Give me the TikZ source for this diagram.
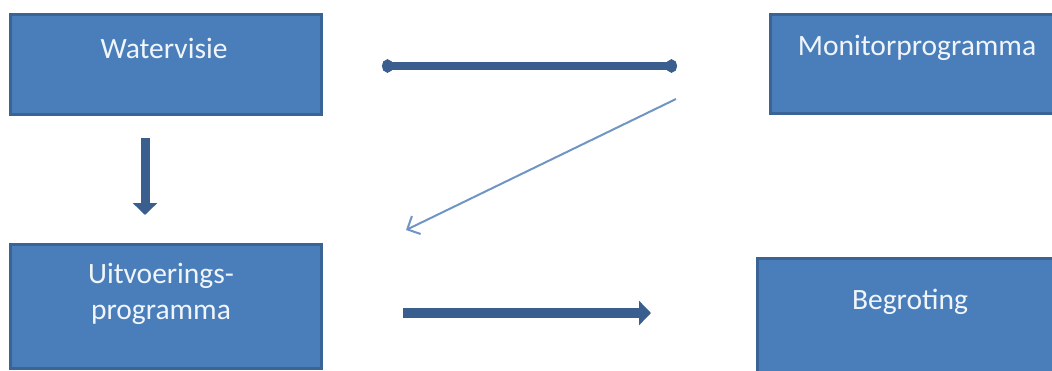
\documentclass[tikz,border=0pt]{standalone}
\usepackage{fontspec}
\setmainfont{Carlito}
\usetikzlibrary{arrows.meta}
\definecolor{boxfill}{HTML}{4A7EBB}
\definecolor{boxline}{HTML}{3A6496}
\definecolor{arrdark}{HTML}{3A5F8E}
\definecolor{arrlight}{HTML}{7095C4}
\begin{document}
\begin{tikzpicture}[x=1pt,y=-1pt,
  blk/.style={draw=boxline,fill=boxfill,line width=3pt},
  lbl/.style={text=white!92!boxfill,font=\fontsize{29.5}{36}\selectfont,align=center,inner sep=0pt}]
\useasboundingbox (0,0) rectangle (1052,370);
\begin{scope}
\clip (0,0) rectangle (1052,370);
\draw[blk] (10,14) rectangle (321,114);
\draw[blk] (770,14) rectangle (1065,113);
\draw[blk] (10,244) rectangle (321,368);
\draw[blk] (757,258) rectangle (1065,385);
\end{scope}
\node[lbl] (wv) at (164,48) {Watervisie};
\node[lbl] (mp) at (917,48) {Monitorprogramma};
\node[lbl] (up) at (161,294) {Uitvoerings-\\programma};
\node[lbl] (bg) at (910,302) {Begroting};
\coordinate (a1) at (382,66);
\coordinate (a2) at (677,66);
\coordinate (d1) at (676,99);
\coordinate (d2) at (406,230);
\coordinate (v1) at (145,138);
\coordinate (v2) at (145,215);
\coordinate (h1) at (403,313);
\coordinate (h2) at (651,313);
\draw[arrdark,line width=8pt,{Circle[length=11pt,width=13pt]}-{Circle[length=11pt,width=13pt]}] (a1) -- (a2);
\draw[arrlight,line width=2pt,-{Straight Barb[length=10pt,width=20pt]}] (d1) -- (d2);
\draw[arrdark,line width=9pt,-{Triangle[length=12pt,width=24pt]}] (v1) -- (v2);
\draw[arrdark,line width=10pt,-{Triangle[length=12pt,width=24pt]}] (h1) -- (h2);
\end{tikzpicture}
\end{document}
